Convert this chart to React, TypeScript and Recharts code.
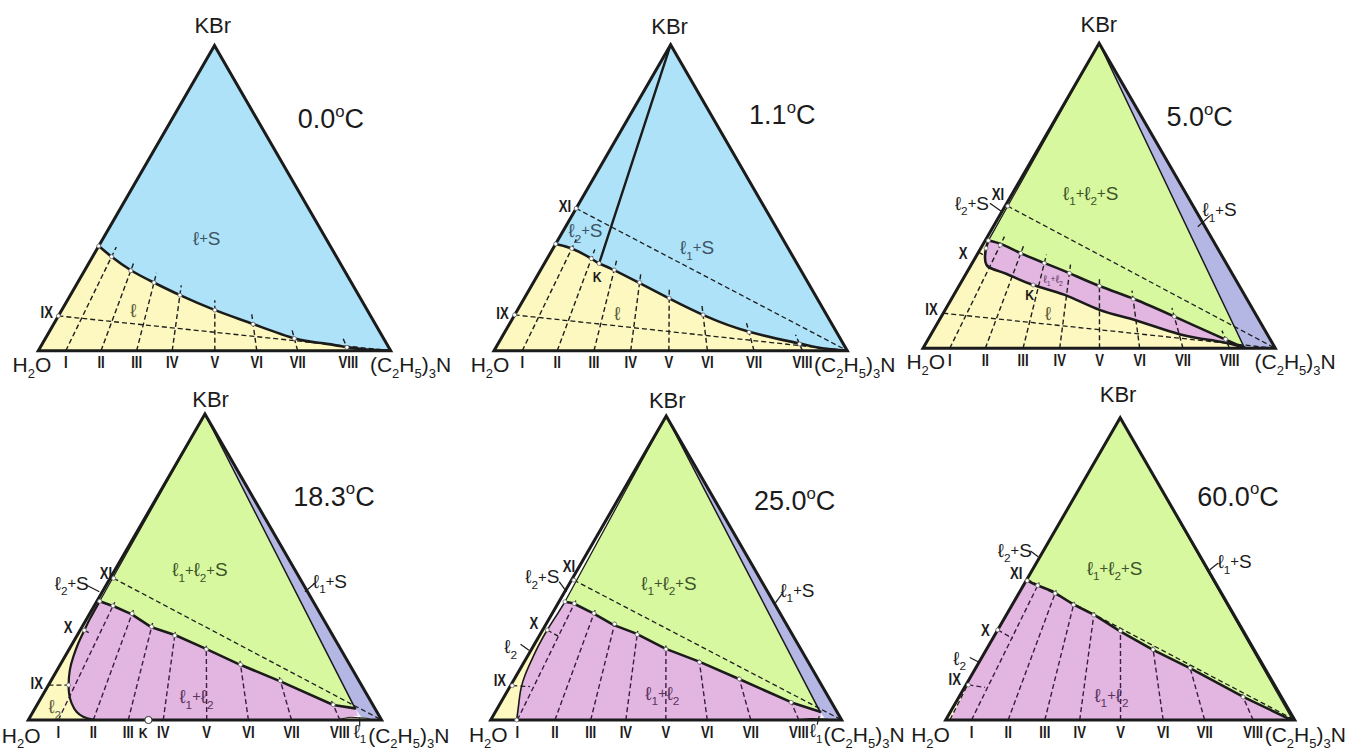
import React from "react";
import { ScatterChart, Scatter, XAxis, YAxis } from "recharts";

// compositions are [wt% (C2H5)3N, wt% KBr]; water is the remainder
type Pt = [number, number];
type XY = [number, number];

const ROMAN = ["I", "II", "III", "IV", "V", "VI", "VII", "VIII"];

// 0.0 °C
const T0_SECTION_BASE = [7.8, 17.8, 27.9, 38.0, 50.1, 62.0, 73.6, 88.0];
const T0_SECTION_CROSS = [30.8, 26.2, 22.3, 18.2, 13.3, 8.7, 4.0, 1.1];
const T0_LIQUIDUS: Pt[] = [[0, 34.3], [5.4, 30.8], [13.4, 26.2], [21.7, 22.3], [31.1, 18.2], [43.5, 13.3], [56.7, 8.7], [70.8, 4.0], [79.7, 2.4], [87.4, 1.1], [93, 0.4], [100, 0]];
const T0_IX = 11.4;

// 1.1 °C
const T1_SECTION_BASE = [8.0, 17.9, 28.3, 38.7, 49.5, 60.4, 73.6, 87.3];
const T1_SECTION_CROSS = [33.4, 30.1, 26.4, 22.3, 17.2, 11.7, 6.0, 2.2];
const T1_LIQUIDUS: Pt[] = [[0, 34.9], [5.3, 33.4], [12.3, 30.2], [15.5, 28.5], [20.2, 26.6], [29.3, 22.5], [41.0, 17.1], [54.3, 11.3], [69.1, 6.2], [85.1, 2.4], [92.5, 0.8], [100, 0]];
const T1_K: Pt = [15.5, 28.5];
const T1_IX = 11.7;
const T1_XI = 46.5;

// 5.0 °C
const T5_SECTION_BASE = [7.6, 17.7, 28.4, 38.8, 50.1, 61.5, 73.8, 87.0];
const T5_SECTION_CROSS = [33.8, 31.1, 27.9, 24.6, 20.4, 16.1, 10.4, 3.0];
const T5_UPPER: Pt[] = [[0.9, 35.3], [5.8, 33.9], [12.3, 31.1], [20.6, 27.9], [28.8, 24.8], [39.9, 20.4], [52.0, 16.1], [66.2, 10.4], [85.3, 2.5], [91.0, 0.3]];
const T5_LOWER: Pt[] = [[0.9, 35.3], [1.5, 32.8], [2.7, 29.8], [4.4, 27.3], [7.0, 25.9], [11.6, 24.35], [20.9, 20.75], [31.5, 17.5], [43.8, 12.6], [56.0, 9.1], [70.5, 4.6], [81.5, 2.5], [86.8, 1.4], [91.0, 0.3]];
const T5_K: Pt = [20.9, 20.75];

// 18.3 °C
const T18_SECTION_BASE = [8.5, 18.4, 28.3, 38.2, 50.5, 62.3, 74.5, 88.2];
const T18_SECTION_CROSS = [37.3, 34.8, 30.5, 27.6, 23.1, 18.1, 12.8, 5.0];
const T18_UPPER: Pt[] = [[0.8, 38.8], [6.0, 37.0], [11.9, 34.6], [19.75, 30.3], [27.6, 27.8], [38.3, 23.4], [50.6, 18.2], [64.85, 12.7], [83.9, 4.9], [90.6, 3.8]];
const T18_BINODAL: Pt[] = [[0.8, 38.8], [0.9, 33.0], [1.2, 29.3], [1.6, 25.1], [2.4, 20.7], [3.6, 16.3], [5.7, 11.4], [7.5, 8.2], [9.55, 5.45], [12.3, 2.7], [15.0, 1.1], [17.8, 0.2], [19.0, 0]];
const T18_L1: Pt[] = [[87, 0], [90.6, 0.9], [95.5, 0.6], [97.5, 0]];
const T18_K: Pt = [34, 0];

// 25.0 °C
const T25_SECTION_BASE = [7.6, 18.3, 28.5, 38.5, 49.9, 61.7, 74.1, 87.8];
const T25_SECTION_CROSS = [38.3, 35.1, 31.6, 28.1, 23.3, 19.0, 13.5, 5.8];
const T25_UPPER: Pt[] = [[1.7, 38.9], [4.3, 38.4], [11.7, 35.1], [19.3, 31.3], [27.05, 28.5], [38.2, 23.4], [49.8, 19.2], [64.0, 13.5], [83.05, 5.7], [92.5, 2.7]];
const T25_BINODAL: Pt[] = [[1.7, 38.9], [1.55, 34.5], [1.3, 29.6], [1.4, 24.3], [1.8, 19.7], [2.4, 14.8], [3.6, 9.9], [5.5, 4.9], [7.4, 0]];
const T25_L1: Pt[] = [[86, 0], [91, 0.5], [96, 0.3], [97.5, 0]];

// 60.0 °C
const T60_SECTION_BASE = [7.4, 17.9, 28.4, 38.4, 50.1, 62.3, 74.2, 88.1];
const T60_SECTION_CROSS = [44.5, 41.9, 38.1, 34.7, 29.5, 23.3, 17.2, 7.6];
const T60_UPPER: Pt[] = [[0.3, 46.1], [3.05, 44.9], [9.5, 42.5], [17.35, 38.3], [25.35, 34.7], [35.2, 29.4], [47.8, 23.2], [61.95, 16.9], [82.0, 7.4], [97.8, 0.55], [99.3, 0.1]];
const T60_L2: Pt[] = [[0, 0], [0, 11.6], [0.5, 11.0], [1.2, 0]];

const PANEL_W = 449;
const PANEL_H = 375;
const FONT = "'Liberation Sans', Arial, Helvetica, sans-serif";
const SQUEEZE = 0.82;
const REG = 19; // region label size

const BLUE = "#ade2f8";
const YELLOW = "#fcf8bf";
const GREEN = "#d8f89f";
const PINK = "#e3b6e1";
const VIOLET = "#b4b6e4";
const INK = "#1b1b1b";
const INK_BLUE = "#3c5464";
const INK_YEL = "#5e5c3c";
const INK_GREEN = "#3b5328";
const INK_PINK = "#5a3560";
const DASH = "#1e1e1e";
const DASH_PINK = "#3a1d42";

const TRI: Pt[] = [[0, 0], [100, 0], [0, 100]];
const APEX: Pt = [0, 100];
const H = Math.sqrt(3) / 2;

const tern = ([am, kb]: Pt) => ({ x: (am + kb / 2) / 100, y: (kb * H) / 100 });
const flat = ([x, y]: XY) => ({ x, y });
// point on the line from a base composition toward the KBr corner
const onRay = (t: number, k: number): Pt => [t * (1 - k / 100), k];
const last = (a: Pt[]) => a[a.length - 1];
const rev = (a: Pt[]) => [...a].reverse();

interface Stroke {
  pts: Pt[];
  w: number;
  dash?: string;
  color?: string;
  smooth?: boolean;
}
interface Label {
  t: string;
  at: XY;
  size: number;
  anchor?: "start" | "middle" | "end";
  bold?: boolean;
  mid?: boolean;
  color?: string;
}
interface PanelSpec {
  frame: { left: number; base: number; width: number };
  fills: { pts: Pt[]; fill: string }[];
  dashed: Stroke[];
  solid: Stroke[];
  sectionBase: number[];
  sectionCross: number[];
  sectionExt: number;
  sectionColor: string;
  romanY: number;
  dots: Pt[];
  bigDots: Pt[];
  leaders: XY[][];
  labels: Label[];
}

const dashed = (a: Pt, b: Pt, color = DASH): Stroke => ({ pts: [a, b], w: 1.3, dash: "5 3", color });
const plain = (pts: Pt[], w: number, smooth = false): Stroke => ({ pts, w, smooth });

const P0: PanelSpec = {
  frame: { left: 38.3, base: 350.7, width: 352.4 },
  fills: [
    { pts: TRI, fill: BLUE },
    { pts: [[0, 0], ...T0_LIQUIDUS], fill: YELLOW },
  ],
  dashed: [dashed([0, T0_IX], [100, 0])],
  solid: [plain(T0_LIQUIDUS, 2.6, true)],
  sectionBase: T0_SECTION_BASE,
  sectionCross: T0_SECTION_CROSS,
  sectionExt: 3.2,
  sectionColor: DASH,
  romanY: -0.05,
  dots: [T0_LIQUIDUS[0], [0, T0_IX]],
  bigDots: [],
  leaders: [],
  labels: [
    { t: "KBr", at: [0.495, 0.901], size: 22 },
    { t: "0.0^oC", at: [0.736, 0.631], size: 27, anchor: "start" },
    { t: "ℓ+S", at: [0.478, 0.319], size: REG, mid: true, color: INK_BLUE },
    { t: "ℓ", at: [0.27, 0.115], size: REG, mid: true, color: INK_YEL },
    { t: "IX", at: [0.024, 0.109], size: 16, bold: true, mid: true },
    { t: "H_2O", at: [-0.073, -0.06], size: 21, anchor: "start" },
    { t: "(C_2H_5)_3N", at: [0.941, -0.06], size: 21, anchor: "start" },
  ],
};

const P1: PanelSpec = {
  frame: { left: 45, base: 350.7, width: 353.3 },
  fills: [
    { pts: TRI, fill: BLUE },
    { pts: [[0, 0], ...T1_LIQUIDUS], fill: YELLOW },
  ],
  dashed: [dashed([0, T1_IX], [100, 0]), dashed([0, T1_XI], [100, 0])],
  solid: [plain(T1_LIQUIDUS, 2.6, true), plain([APEX, T1_K], 2.4)],
  sectionBase: T1_SECTION_BASE,
  sectionCross: T1_SECTION_CROSS,
  sectionExt: 3,
  sectionColor: DASH,
  romanY: -0.05,
  dots: [T1_LIQUIDUS[0], T1_K, [0, T1_XI], [0, T1_IX]],
  bigDots: [],
  leaders: [],
  labels: [
    { t: "KBr", at: [0.497, 0.896], size: 22 },
    { t: "1.1^oC", at: [0.722, 0.642], size: 27, anchor: "start" },
    { t: "XI", at: [0.201, 0.409], size: 16, bold: true, mid: true },
    { t: "ℓ_2+S", at: [0.259, 0.34], size: REG, mid: true, color: INK_BLUE },
    { t: "ℓ_1+S", at: [0.575, 0.292], size: REG, mid: true, color: INK_BLUE },
    { t: "K", at: [0.292, 0.209], size: 15, bold: true, mid: true },
    { t: "ℓ", at: [0.349, 0.106], size: REG, mid: true, color: INK_YEL },
    { t: "IX", at: [0.024, 0.106], size: 16, bold: true, mid: true },
    { t: "H_2O", at: [-0.066, -0.06], size: 21, anchor: "start" },
    { t: "(C_2H_5)_3N", at: [0.906, -0.06], size: 21, anchor: "start" },
  ],
};

const P2: PanelSpec = {
  frame: { left: 25, base: 348.3, width: 352.3 },
  fills: [
    { pts: [APEX, ...T5_UPPER], fill: GREEN },
    { pts: [APEX, [91.3, 0], [100, 0]], fill: VIOLET },
    { pts: [[0, 0], [0, 34.5], ...T5_UPPER, [91.3, 0]], fill: YELLOW },
    { pts: [...T5_UPPER, ...rev(T5_LOWER)], fill: PINK },
  ],
  dashed: [
    dashed([0, 11.5], [100, 0]),
    dashed([0.75, 46.6], [100, 0]),
    dashed([0, 31.5], [2.5, 30.3]),
  ],
  solid: [
    plain(T5_UPPER, 2.6, true),
    plain(T5_LOWER, 2.6, true),
    plain([APEX, T5_UPPER[0]], 1.3),
    plain([APEX, [91.3, 0]], 1.5),
  ],
  sectionBase: T5_SECTION_BASE,
  sectionCross: T5_SECTION_CROSS,
  sectionExt: 2.8,
  sectionColor: DASH,
  romanY: -0.05,
  dots: [T5_K, [0.75, 46.6], T5_UPPER[0], T5_LOWER[1]],
  bigDots: [],
  leaders: [
    [[0.19, 0.412], [0.223, 0.388]],
    [[0.78, 0.345], [0.814, 0.376]],
  ],
  labels: [
    { t: "KBr", at: [0.499, 0.899], size: 22 },
    { t: "5.0^oC", at: [0.691, 0.631], size: 27, anchor: "start" },
    { t: "ℓ_1+ℓ_2+S", at: [0.476, 0.44], size: REG, mid: true, color: INK_GREEN },
    { t: "ℓ_2+S", at: [0.139, 0.412], size: REG, mid: true },
    { t: "XI", at: [0.213, 0.438], size: 16, bold: true, mid: true },
    { t: "ℓ_1+S", at: [0.842, 0.393], size: REG, mid: true },
    { t: "X", at: [0.114, 0.27], size: 16, bold: true, mid: true },
    { t: "ℓ_1+ℓ_2", at: [0.369, 0.196], size: 11, mid: true, color: INK_PINK },
    { t: "K", at: [0.303, 0.151], size: 15, bold: true, mid: true },
    { t: "ℓ", at: [0.355, 0.099], size: REG, mid: true, color: INK_YEL },
    { t: "IX", at: [0.024, 0.109], size: 16, bold: true, mid: true },
    { t: "H_2O", at: [-0.047, -0.06], size: 21, anchor: "start" },
    { t: "(C_2H_5)_3N", at: [0.941, -0.06], size: 21, anchor: "start" },
  ],
};

const P3: PanelSpec = {
  frame: { left: 28.3, base: 345, width: 353.3 },
  fills: [
    { pts: [APEX, ...T18_UPPER], fill: GREEN },
    { pts: [APEX, last(T18_UPPER), [94, 0.8], [100, 0]], fill: VIOLET },
    { pts: [[0, 0], [0, 29.5], ...T18_BINODAL.slice(2)], fill: YELLOW },
    { pts: [...T18_UPPER, [92.5, 1.5], [87, 0], ...rev(T18_BINODAL)], fill: PINK },
    { pts: T18_L1, fill: YELLOW },
  ],
  dashed: [
    dashed([0, 11.4], [5.7, 11.4]),
    dashed([1.2, 29.3], [3.2, 28.4]),
    dashed([1, 46.3], [100, 0]),
  ],
  solid: [
    plain(T18_UPPER, 2.6),
    plain(T18_BINODAL, 2.2, true),
    plain([APEX, T18_UPPER[0]], 1.3),
    plain([APEX, last(T18_UPPER)], 1.5),
    plain(T18_L1, 1),
  ],
  sectionBase: T18_SECTION_BASE,
  sectionCross: T18_SECTION_CROSS,
  sectionExt: 1.2,
  sectionColor: DASH_PINK,
  romanY: -0.052,
  dots: [T18_UPPER[0], [1.2, 29.3], [5.7, 11.4], [1, 46.3]],
  bigDots: [T18_K],
  leaders: [
    [[0.16, 0.384], [0.201, 0.363]],
    [[0.783, 0.363], [0.811, 0.387]],
    [[0.938, -0.018], [0.938, 0.005]],
  ],
  labels: [
    { t: "KBr", at: [0.516, 0.887], size: 22 },
    { t: "18.3^oC", at: [0.75, 0.607], size: 27, anchor: "start" },
    { t: "ℓ_1+ℓ_2+S", at: [0.486, 0.425], size: REG, mid: true, color: INK_GREEN },
    { t: "ℓ_2+S", at: [0.123, 0.387], size: REG, mid: true },
    { t: "XI", at: [0.22, 0.415], size: 16, bold: true, mid: true },
    { t: "ℓ_1+S", at: [0.854, 0.392], size: REG, mid: true },
    { t: "X", at: [0.113, 0.262], size: 16, bold: true, mid: true },
    { t: "IX", at: [0.024, 0.104], size: 16, bold: true, mid: true },
    { t: "ℓ_2", at: [0.075, 0.038], size: REG, mid: true, color: INK_YEL },
    { t: "ℓ_1+ℓ_2", at: [0.476, 0.066], size: REG, mid: true, color: INK_PINK },
    { t: "ℓ_1", at: [0.939, -0.032], size: 19, mid: true },
    { t: "K", at: [0.325, -0.052], size: 15, bold: true },
    { t: "H_2O", at: [-0.075, -0.064], size: 21, anchor: "start" },
    { t: "(C_2H_5)_3N", at: [0.962, -0.064], size: 21, anchor: "start" },
  ],
};

const P4: PanelSpec = {
  frame: { left: 41.7, base: 345, width: 351 },
  fills: [
    { pts: [APEX, ...T25_UPPER], fill: GREEN },
    { pts: [APEX, last(T25_UPPER), [95, 0.5], [100, 0]], fill: VIOLET },
    { pts: [[0, 0], [0, 31], ...T25_BINODAL.slice(2)], fill: YELLOW },
    { pts: [...T25_UPPER, [93.5, 1], [88, 0], ...rev(T25_BINODAL)], fill: PINK },
    { pts: T25_L1, fill: YELLOW },
  ],
  dashed: [
    dashed([0.5, 11.3], [5.7, 11.0]),
    dashed([1.3, 29.6], [5.4, 27.6]),
    dashed([0.7, 46], [100, 0]),
  ],
  solid: [
    plain(T25_UPPER, 2.6),
    plain(T25_BINODAL, 1.6, true),
    plain([APEX, T25_UPPER[0]], 1.3),
    plain([APEX, last(T25_UPPER)], 1.5),
    plain(T25_L1, 1),
  ],
  sectionBase: T25_SECTION_BASE,
  sectionCross: T25_SECTION_CROSS,
  sectionExt: 1.2,
  sectionColor: DASH_PINK,
  romanY: -0.052,
  dots: [T25_UPPER[0], [1.3, 29.6], [0.5, 11.3], [0.7, 46], [7.4, 0]],
  bigDots: [],
  leaders: [
    [[0.195, 0.394], [0.216, 0.366]],
    [[0.807, 0.328], [0.831, 0.361]],
    [[0.085, 0.216], [0.109, 0.199]],
    [[0.93, -0.013], [0.936, 0.011]],
  ],
  labels: [
    { t: "KBr", at: [0.503, 0.89], size: 22 },
    { t: "25.0^oC", at: [0.75, 0.598], size: 27, anchor: "start" },
    { t: "ℓ_1+ℓ_2+S", at: [0.508, 0.389], size: REG, mid: true, color: INK_GREEN },
    { t: "ℓ_2+S", at: [0.147, 0.408], size: REG, mid: true },
    { t: "XI", at: [0.223, 0.437], size: 16, bold: true, mid: true },
    { t: "ℓ_1+S", at: [0.874, 0.37], size: REG, mid: true },
    { t: "X", at: [0.123, 0.275], size: 16, bold: true, mid: true },
    { t: "IX", at: [0.026, 0.114], size: 16, bold: true, mid: true },
    { t: "ℓ_2", at: [0.057, 0.209], size: REG, mid: true },
    { t: "ℓ_1+ℓ_2", at: [0.489, 0.076], size: REG, mid: true, color: INK_PINK },
    { t: "ℓ_1", at: [0.927, -0.03], size: 19, mid: true },
    { t: "H_2O", at: [-0.062, -0.064], size: 21, anchor: "start" },
    { t: "(C_2H_5)_3N", at: [0.948, -0.064], size: 21, anchor: "start" },
  ],
};

const P5: PanelSpec = {
  frame: { left: 47.7, base: 345, width: 349 },
  fills: [
    { pts: [APEX, ...T60_UPPER], fill: GREEN },
    { pts: [...T60_UPPER, [100, 0], [1.2, 0], [0.5, 11.0], [0, 11.6], [0, 46.1]], fill: PINK },
    { pts: T60_L2, fill: YELLOW },
  ],
  dashed: [
    dashed([0, 46.6], [100, 0]),
    dashed([0.7, 11.6], [5.9, 10.8], DASH_PINK),
    dashed([0, 29.8], [5.7, 27], DASH_PINK),
    dashed([0.5, 11.0], [1.2, 0]),
  ],
  solid: [plain(T60_UPPER, 2.6), plain([APEX, last(T60_UPPER)], 1.2)],
  sectionBase: T60_SECTION_BASE,
  sectionCross: T60_SECTION_CROSS,
  sectionExt: 1,
  sectionColor: DASH_PINK,
  romanY: -0.052,
  dots: [T60_UPPER[0], [0, 29.8], [0.7, 11.6]],
  bigDots: [],
  leaders: [
    [[0.243, 0.484], [0.265, 0.468]],
    [[0.756, 0.43], [0.78, 0.449]],
    [[0.069, 0.179], [0.093, 0.167]],
  ],
  labels: [
    { t: "KBr", at: [0.494, 0.91], size: 22 },
    { t: "60.0^oC", at: [0.721, 0.614], size: 27, anchor: "start" },
    { t: "ℓ_1+ℓ_2+S", at: [0.484, 0.435], size: REG, mid: true, color: INK_GREEN },
    { t: "ℓ_2+S", at: [0.198, 0.487], size: REG, mid: true },
    { t: "XI", at: [0.202, 0.42], size: 16, bold: true, mid: true },
    { t: "ℓ_1+S", at: [0.828, 0.454], size: REG, mid: true },
    { t: "X", at: [0.114, 0.258], size: 16, bold: true, mid: true },
    { t: "ℓ_2", at: [0.04, 0.177], size: REG, mid: true },
    { t: "IX", at: [0.026, 0.115], size: 16, bold: true, mid: true },
    { t: "ℓ_1+ℓ_2", at: [0.475, 0.072], size: REG, mid: true, color: INK_PINK },
    { t: "H_2O", at: [-0.099, -0.064], size: 21, anchor: "start" },
    { t: "(C_2H_5)_3N", at: [0.914, -0.064], size: 21, anchor: "start" },
  ],
};

const PANELS = [P0, P1, P2, P3, P4, P5];

// "_x" lowers x, "^x" raises x, "+" is set small
type Kind = "n" | "b" | "p" | "+";
function parseRich(s: string): [string, Kind][] {
  const out: [string, Kind][] = [];
  for (let i = 0; i < s.length; i++) {
    let ch = s[i];
    let kind: Kind = "n";
    if (ch === "_") {
      kind = "b";
      ch = s[++i];
    } else if (ch === "^") {
      kind = "p";
      ch = s[++i];
    } else if (ch === "+") {
      kind = "+";
    }
    const prev = out[out.length - 1];
    if (prev && prev[1] === kind) prev[0] += ch;
    else out.push([ch, kind]);
  }
  return out;
}

function Rich({ x, y, label }: { x: number; y: number; label: Label }) {
  const { t, size, anchor = "middle", bold, mid, color = INK } = label;
  let shift = 0;
  const spans = parseRich(t).map(([s, kind], i) => {
    const target = kind === "b" ? size * 0.28 : kind === "p" ? -size * 0.42 : kind === "+" ? -size * 0.1 : 0;
    const fs = kind === "b" || kind === "p" ? size * 0.62 : kind === "+" ? size * 0.78 : size;
    const dy = target - shift;
    shift = target;
    return (
      <tspan key={i} dy={dy} fontSize={fs}>
        {s}
      </tspan>
    );
  });
  const ty = y + (mid ? size * 0.35 : 0);
  if (bold) {
    return (
      <g transform={`translate(${x},${ty}) scale(${SQUEEZE},1)`}>
        <text x={0} y={0} fontSize={size} fontWeight="bold" fontFamily={FONT} textAnchor={anchor} fill={color}>
          {spans}
        </text>
      </g>
    );
  }
  return (
    <text x={x} y={ty} fontSize={size} fontFamily={FONT} textAnchor={anchor} fill={color}>
      {spans}
    </text>
  );
}

const noDot = () => <g />;
const smallDot = (p: any) => <circle cx={p.cx} cy={p.cy} r={2} fill="#fff" stroke="#6a6a6a" strokeWidth={0.8} />;
const bigDot = (p: any) => <circle cx={p.cx} cy={p.cy} r={3.6} fill="#fff" stroke="#333" strokeWidth={1} />;
const labelShape = (p: any) => <Rich x={p.cx} y={p.cy} label={p.payload.lbl} />;

function strokeSeries(s: Stroke, key: string) {
  return (
    <Scatter
      key={key}
      data={s.pts.map(tern)}
      shape={noDot}
      isAnimationActive={false}
      lineJointType={s.smooth ? "natural" : "linear"}
      line={{
        stroke: s.color ?? INK,
        strokeWidth: s.w,
        strokeDasharray: s.dash,
        fill: "none",
        strokeLinejoin: "round",
        strokeLinecap: s.dash ? "butt" : "round",
      }}
    />
  );
}

function TernaryPanel({ spec }: { spec: PanelSpec }) {
  const { left, base, width } = spec.frame;
  const xDomain = [-left / width, (PANEL_W - left) / width];
  const yDomain = [-(PANEL_H - base) / width, base / width];

  const sections: Stroke[] = spec.sectionBase.map((t, i) => ({
    pts: [[t, 0], onRay(t, spec.sectionCross[i] + spec.sectionExt)],
    w: 1.4,
    dash: "5 3",
    color: spec.sectionColor,
  }));
  const crossDots = spec.sectionBase.map((t, i) => onRay(t, spec.sectionCross[i]));
  const romans: Label[] = spec.sectionBase.map((t, i) => ({
    t: ROMAN[i],
    at: [t / 100, spec.romanY],
    size: 16,
    bold: true,
  }));
  const labels = [...romans, ...spec.labels].map((l) => ({ ...flat(l.at), lbl: l }));

  return (
    <ScatterChart width={PANEL_W} height={PANEL_H} margin={{ top: 0, right: 0, bottom: 0, left: 0 }}>
      <XAxis type="number" dataKey="x" domain={xDomain} hide />
      <YAxis type="number" dataKey="y" domain={yDomain} hide />
      {spec.fills.map((f, i) => (
        <Scatter
          key={`fill${i}`}
          data={f.pts.map(tern)}
          shape={noDot}
          isAnimationActive={false}
          lineJointType="linearClosed"
          line={{ fill: f.fill, stroke: f.fill, strokeWidth: 0.6 }}
        />
      ))}
      {sections.map((s, i) => strokeSeries(s, `sec${i}`))}
      {spec.dashed.map((s, i) => strokeSeries(s, `dash${i}`))}
      {spec.solid.map((s, i) => strokeSeries(s, `solid${i}`))}
      <Scatter
        data={TRI.map(tern)}
        shape={noDot}
        isAnimationActive={false}
        lineJointType="linearClosed"
        line={{ stroke: INK, strokeWidth: 3, fill: "none", strokeLinejoin: "miter" }}
      />
      {spec.leaders.map((seg, i) => (
        <Scatter
          key={`lead${i}`}
          data={seg.map(flat)}
          shape={noDot}
          isAnimationActive={false}
          line={{ stroke: INK, strokeWidth: 1.2, fill: "none" }}
        />
      ))}
      <Scatter data={[...crossDots, ...spec.dots].map(tern)} shape={smallDot} isAnimationActive={false} />
      <Scatter data={spec.bigDots.map(tern)} shape={bigDot} isAnimationActive={false} />
      <Scatter data={labels} shape={labelShape} isAnimationActive={false} />
    </ScatterChart>
  );
}

export default function App() {
  return (
    <div style={{ position: "relative", width: 1347, height: 751, background: "#fff", fontFamily: FONT }}>
      <style>{`body{margin:0}.recharts-surface{overflow:visible}`}</style>
      {PANELS.map((spec, i) => (
        <div
          key={i}
          style={{ position: "absolute", left: (i % 3) * PANEL_W, top: Math.floor(i / 3) * PANEL_H, width: PANEL_W, height: PANEL_H }}
        >
          <TernaryPanel spec={spec} />
        </div>
      ))}
    </div>
  );
}
